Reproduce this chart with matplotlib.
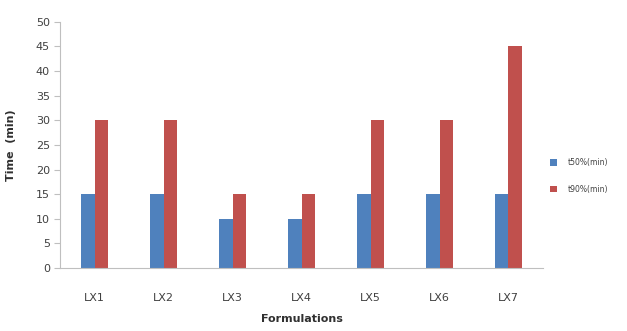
import matplotlib.pyplot as plt
import numpy as np

categories = ["LX1", "LX2", "LX3", "LX4", "LX5", "LX6", "LX7"]
t50 = [15, 15, 10, 10, 15, 15, 15]
t90 = [30, 30, 15, 15, 30, 30, 45]
series_labels = ["t50%(min)", "t90%(min)"]

fig = plt.figure(figsize=(6.27, 3.31), dpi=100)
ax = fig.add_axes([0.096, 0.19, 0.77, 0.744])

x = np.arange(len(categories))
w = 0.2
ax.bar(x - w / 2, t50, w, color="#4F81BD", label=series_labels[0])
ax.bar(x + w / 2, t90, w, color="#C0504D", label=series_labels[1])

ax.set_xlim(-0.5, len(categories) - 0.5)
ax.set_ylim(0, 50)
ax.set_yticks(range(0, 51, 5))
ax.set_xticks(x)
ax.set_xticklabels(categories)
ax.tick_params(axis="y", labelsize=8, color="#bfbfbf", length=4, labelcolor="#404040")
ax.tick_params(axis="x", labelsize=8, length=0, pad=18, labelcolor="#404040")

for side in ["top", "right"]:
    ax.spines[side].set_visible(False)
for side in ["left", "bottom"]:
    ax.spines[side].set_color("#bfbfbf")

ax.set_ylabel("Time  (min)", fontsize=8, fontweight="bold", color="#303030", labelpad=14)
ax.set_xlabel("Formulations", fontsize=8, fontweight="bold", color="#303030", labelpad=8)

ax.legend(loc="center left", bbox_to_anchor=(1.0, 0.375), frameon=False,
          fontsize=5.5, handlelength=1.0, handleheight=1.0, labelspacing=2.3,
          handletextpad=1.4, labelcolor="#404040")

fig.savefig("out.png", dpi=100)
